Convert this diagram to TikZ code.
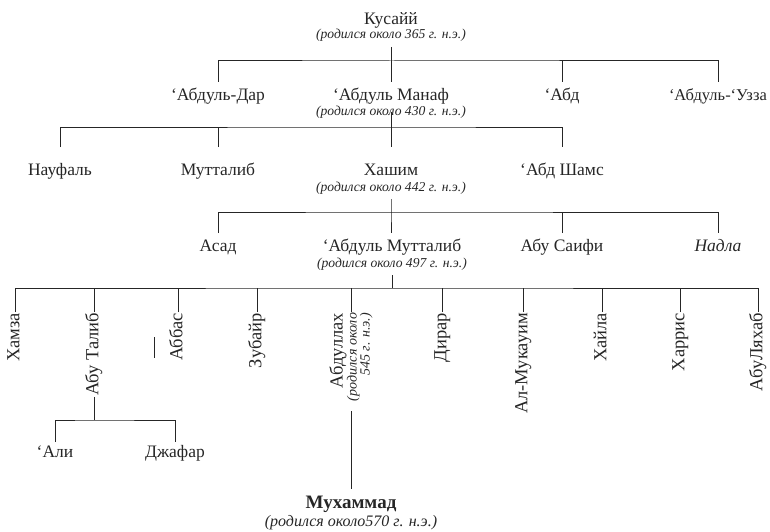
\documentclass[tikz,border=0pt]{standalone}
\usepackage{fontspec}
\setmainfont{Liberation Serif}
\begin{document}
\begin{tikzpicture}[x=1pt, y=-1pt, color=black!85, line width=1pt]
\tikzset{name style/.style={font=\fontsize{17.5}{17.5}\selectfont, inner sep=0pt, outer sep=6.75pt, text height=12pt, text depth=4.5pt},
         date style/.style={font=\itshape\fontsize{13.6}{13.6}\selectfont, inner sep=0pt, outer sep=4.5pt, text height=9.5pt, text depth=3.5pt},
         vert style/.style={font=\fontsize{18.5}{18.5}\selectfont, rotate=90, anchor=east, inner sep=0pt, outer sep=1pt, text height=13pt, text depth=4.5pt}}
\useasboundingbox (0,0) rectangle (770,532);

\node[name style] at (391, 21)   (1)   {Кусайй};
\node[date style] at (391, 36)   (d1)  {(родился около 365 г. н.э.)};

\node[name style] at (218, 97)   (2)   {‘Абдуль-Дар};
\node[name style] at (391, 97)   (3)   {‘Абдуль Манаф};
\node[date style] at (391, 112)  (d3)  {(родился около 430 г. н.э.)};
\node[name style] at (562, 97)   (4)   {‘Абд};
\node[name style, font=\fontsize{16.5}{16.5}\selectfont] at (718, 97) (5) {‘Абдуль-‘Узза};

\node[name style, outer sep=16.75pt] at (60, 172)   (6)   {Науфаль};
\node[name style, outer sep=16.75pt] at (218, 172)  (7)   {Мутталиб};
\node[name style, outer sep=16.75pt] at (391, 172)  (8)   {Хашим};
\node[date style] at (391, 188)  (d8)  {(родился около 442 г. н.э.)};
\node[name style, outer sep=16.75pt] at (562, 172)  (9)   {‘Абд Шамс};

\node[name style] at (218, 248)  (10)  {Асад};
\node[name style] at (392, 248)  (11)  {‘Абдуль Мутталиб};
\node[date style] at (392, 264)  (d11) {(родился около 497 г. н.э.)};
\node[name style] at (562, 248)  (12)  {Абу Саифи};
\node[name style, font=\itshape\fontsize{17.5}{17.5}\selectfont] at (718, 248) (13) {Надла};

\node[vert style] at (15, 312)   (14)  {Хамза};
\node[vert style] at (94, 312)   (15)  {Абу Талиб};
\node[vert style] at (178, 312)  (16)  {Аббас};
\node[vert style] at (257, 312)  (17)  {Зубайр};
\node[vert style, align=right, text height=, text depth=, font=\fontsize{18.5}{14}\selectfont] at (351, 312) (18)
     {Абдуллах\\{\itshape\fontsize{14}{14}\selectfont(родился около}\\[-1pt]{\itshape\fontsize{14}{14}\selectfont 545 г. н.э.)}};
\node[vert style] at (442, 312)  (19)  {Дирар};
\node[vert style] at (523, 312)  (20)  {Ал-Мукауим};
\node[vert style] at (602, 312)  (21)  {Хайла};
\node[vert style] at (680, 312)  (22)  {Харрис};
\node[vert style] at (758, 312)  (23)  {АбуЛяхаб};

\node[name style, outer sep=3.75pt] at (55, 454)   (24)  {‘Али};
\node[name style, outer sep=3.75pt] at (175, 454)  (25)  {Джафар};

\node[name style, font=\bfseries\fontsize{19}{19}\selectfont, text height=13pt, outer sep=6.25pt] at (351, 504) (26) {Мухаммад};
\node[date style, font=\itshape\fontsize{16}{16}\selectfont] at (351, 523) (d26) {(родился около570 г. н.э.)};

\coordinate (c1) at (391, 61);
\coordinate (c2) at (391, 127);
\coordinate (c3) at (391, 212);
\coordinate (c4) at (392, 288);
\coordinate (c5) at (94, 420);

\draw (d1.south) -- (3.north)
      (2.north) |- (c1) -| (5.north)
      (4.north) -- (4.north |- c1);
\draw (d3.center) -- (8.north)
      (6.north) |- (c2) -| (9.north)
      (7.north) -- (7.north |- c2);
\draw (d8.south) -- (c3) -- (c3 |- 11.north)
      (10.north) |- (c3) -| (13.north)
      (12.north) -- (12.north |- c3);
\draw (d11.south) -- (c4)
      (14.east) |- (c4) -| (23.east)
      (15.east) -- (15.east |- c4)
      (16.east) -- (16.east |- c4)
      (17.east) -- (17.east |- c4)
      (18.east) -- (18.east |- c4)
      (19.east) -- (19.east |- c4)
      (20.east) -- (20.east |- c4)
      (21.east) -- (21.east |- c4)
      (22.east) -- (22.east |- c4);
\draw (15.west) -- (c5)
      (24.north) |- (c5) -| (25.north);
\draw[shorten <=9pt] (18.west) -- (26.north);
\draw (154, 337) -- (154, 358);
\end{tikzpicture}
\end{document}
